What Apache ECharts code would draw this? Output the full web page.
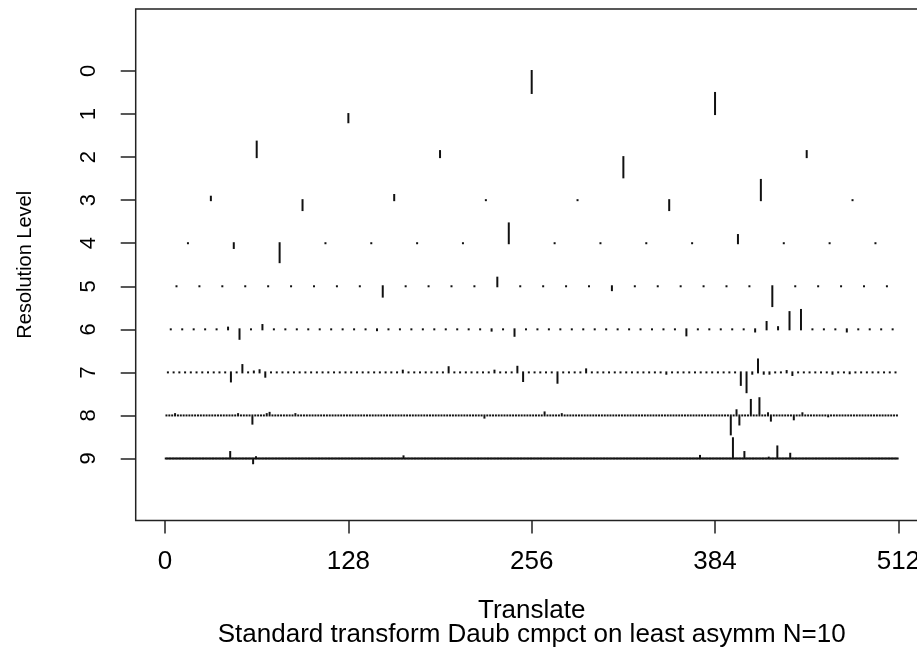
<!DOCTYPE html>
<html><head><meta charset="utf-8">
<script src="https://cdn.jsdelivr.net/npm/echarts@6/dist/echarts.min.js"></script>
<style>html,body{margin:0;padding:0;background:#fff}#c{width:917px;height:647px}</style>
</head><body><div id="c"></div>
<script>
// Tick labels
const xTicks = [0, 128, 256, 384, 512];
const yTicks = [0, 1, 2, 3, 4, 5, 6, 7, 8, 9];
const xTitle = 'Translate';
const subTitle = 'Standard transform Daub cmpct on least asymm N=10';
const yTitle = 'Resolution Level';

// Non-zero wavelet coefficients per resolution level: [translate, value]
// (value in resolution-level units, positive drawn upward; all others are 0)
const level0 = [[256, -0.51]];
const level1 = [[128, -0.19], [384, 0.49]];
const level2 = [[64, 0.36], [192, 0.14], [320, -0.47], [448, 0.14]];
const level3 = [[32, 0.08], [96, -0.23], [160, 0.12], [352, -0.23], [416, 0.47]];
const level4 = [[48, -0.11], [80, -0.44], [240, 0.46], [400, 0.19]];
const level5 = [[152, -0.24], [232, 0.2], [312, -0.09], [424, -0.46]];
const level6 = [[44, 0.04], [52, -0.22], [68, 0.1], [148, -0.02], [228, -0.03], [244, -0.15],
  [364, -0.14], [412, -0.05], [420, 0.17], [428, 0.05], [436, 0.4], [444, 0.45], [476, -0.05]];
const level7 = [[46, -0.21], [54, 0.17], [62, 0.02], [66, 0.05], [70, -0.1], [166, 0.04],
  [198, 0.12], [230, 0.04], [246, 0.13], [250, -0.2], [274, -0.24], [294, 0.07], [350, -0.03],
  [402, -0.29], [406, -0.46], [410, -0.03], [414, 0.3], [418, -0.03], [422, -0.03],
  [434, 0.03], [438, -0.06], [466, -0.03], [478, -0.02]];
const level8 = [[7, 0.03], [51, 0.03], [61, -0.19], [71, 0.03], [73, 0.06], [91, 0.03],
  [223, -0.05], [265, 0.07], [277, 0.03], [395, -0.44], [399, 0.12], [401, -0.21],
  [409, 0.36], [415, 0.4], [421, 0.05], [423, -0.12], [439, -0.09], [445, 0.05], [463, -0.02]];
const level9 = [[45.5, 0.15], [61.5, -0.11], [63.5, 0.03], [166.5, 0.05], [373.5, 0.06],
  [396.5, 0.47], [404.5, 0.15], [421.5, 0.02], [427.5, 0.28], [436.5, 0.11]];

const coefByLevel = [level0, level1, level2, level3, level4, level5, level6, level7, level8, level9];
const N = 512;

const data = [];
coefByLevel.forEach(function (list, j) {
  const n = Math.pow(2, j), step = N / n;
  const m = new Map(list.map(function (d) { return [d[0], d[1]]; }));
  for (let k = 0; k < n; k++) {
    const t = (k + 0.5) * step;
    data.push([t, j, m.has(t) ? m.get(t) : 0]);
  }
});

const font = "'Liberation Sans', Arial, sans-serif";
const chart = echarts.init(document.getElementById('c'), null, {renderer: 'canvas'});
chart.setOption({
  animation: false,
  backgroundColor: '#fff',
  grid: {left: 135.7, top: 9, width: 792, height: 511.5, show: true, containLabel: false,
    outerBoundsMode: 'none',
    borderColor: '#222', borderWidth: 1.5, backgroundColor: 'transparent'},
  xAxis: {
    type: 'value', min: -20.48, max: 532.48,
    name: xTitle + '\n' + subTitle, nameLocation: 'middle', nameGap: 78.5,
    nameTextStyle: {fontFamily: font, fontSize: 26, color: '#000', lineHeight: 24},
    axisLine: {show: false, onZero: false}, splitLine: {show: false},
    axisTick: {show: true, customValues: xTicks, length: 13, lineStyle: {color: '#222', width: 1.5}},
    axisLabel: {customValues: xTicks, fontFamily: font, fontSize: 26, color: '#000', margin: 28.5}
  },
  yAxis: {
    type: 'value', inverse: true, min: -1.44, max: 10.44,
    name: yTitle, nameLocation: 'middle', nameGap: 100, nameRotate: 90,
    nameTextStyle: {fontFamily: font, fontSize: 20, color: '#000'},
    axisLine: {show: false, onZero: false}, splitLine: {show: false},
    axisTick: {show: true, customValues: yTicks, length: 15, lineStyle: {color: '#222', width: 1.5}},
    axisLabel: {customValues: yTicks, rotate: 90, fontFamily: font, fontSize: 22, color: '#000', margin: 36}
  },
  series: [{
    type: 'custom', silent: true,
    data: data,
    encode: {x: 0, y: 1},
    renderItem: function (params, api) {
      const t = api.value(0), lev = api.value(1), v = api.value(2);
      const p0 = api.coord([t, lev]);
      const p1 = api.coord([t, lev - v]);
      const y0 = Math.min(p0[1], p1[1]), y1 = Math.max(p0[1], p1[1]);
      return {type: 'rect', shape: {x: p0[0] - 1, y: y0 - 1, width: 2, height: y1 - y0 + 2},
        style: {fill: '#111'}};
    }
  }]
});
</script></body></html>
